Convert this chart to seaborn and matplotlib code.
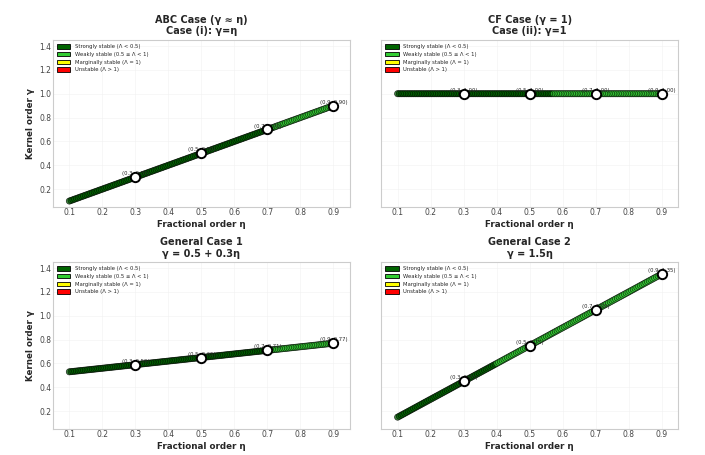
import numpy as np
import pandas as pd
import matplotlib
matplotlib.use("Agg")
import matplotlib.pyplot as plt
from matplotlib.patches import Patch
import seaborn as sns

sns.set_style("whitegrid")

# sampling grid along the fractional order
eta = np.linspace(0.1, 0.9, 150)

titles = ["ABC Case (γ ≈ η)\nCase (i): γ=η",
          "CF Case (γ = 1)\nCase (ii): γ=1",
          "General Case 1\nγ = 0.5 + 0.3η",
          "General Case 2\nγ = 1.5η"]

# kernel order for each case (as given in the titles)
gammas = [eta,
          np.ones_like(eta),
          0.5 + 0.3 * eta,
          1.5 * eta]

# eta where the points turn from strongly to weakly stable
weak_from = [0.72, 0.57, 0.72, 0.40]

highlight_eta = [0.3, 0.5, 0.7, 0.9]

classes = ["Strongly stable (Λ < 0.5)", "Weakly stable (0.5 ≤ Λ < 1)",
           "Marginally stable (Λ = 1)", "Unstable (Λ > 1)"]
colors = ["#006400", "#32CD32", "#FFFF00", "#FF0000"]
palette = dict(zip(classes, colors))

fig, axes = plt.subplots(2, 2, figsize=(7.05, 4.55), dpi=100, sharey=True)
fig.subplots_adjust(left=0.075, right=0.962, top=0.912, bottom=0.057,
                    wspace=0.105, hspace=0.33)

for i, ax in enumerate(axes.flat):
    g = gammas[i]
    df = pd.DataFrame({"eta": eta, "gamma": g})
    df["stab"] = np.where(df["eta"] < weak_from[i], classes[0], classes[1])
    sns.scatterplot(data=df, x="eta", y="gamma", hue="stab", palette=palette,
                    s=20, edgecolor="black", linewidth=0.5, alpha=0.75,
                    legend=False, ax=ax, zorder=3)
    hx = np.array(highlight_eta)
    hy = np.interp(hx, eta, g)
    ax.scatter(hx, hy, s=45, facecolor="white", edgecolor="black",
               linewidth=1.4, zorder=5)
    for x, y in zip(hx, hy):
        ax.text(x, y + 0.008, f"({x:.1f}, {y:.2f})", fontsize=3.8,
                ha="center", va="bottom", zorder=4)

    ax.set_title(titles[i], fontsize=7, fontweight="bold", pad=4)
    ax.set_xlabel("Fractional order η", fontsize=6.3, fontweight="bold", labelpad=2)
    ax.set_xlim(0.05, 0.95)
    ax.set_ylim(0.05, 1.45)
    ax.set_xticks(np.arange(0.1, 0.91, 0.1))
    ax.set_yticks(np.arange(0.2, 1.41, 0.2))
    ax.tick_params(labelsize=5.5, colors="#444444", pad=1, length=0)
    if i % 2 == 0:
        ax.set_ylabel("Kernel order γ", fontsize=6.3, fontweight="bold", labelpad=3)
    else:
        ax.set_ylabel("")
        ax.tick_params(labelleft=False)
    ax.grid(True, color="#eeeeee", linewidth=0.5, alpha=0.6)
    for sp in ax.spines.values():
        sp.set_color("#cccccc")
        sp.set_linewidth(0.8)

    handles = [Patch(facecolor=c, edgecolor="black", linewidth=0.6, label=l)
               for c, l in zip(colors, classes)]
    ax.legend(handles=handles, loc="upper left", fontsize=3.8, frameon=False,
              handlelength=2.5, handleheight=0.9, borderaxespad=0.4,
              labelspacing=0.5)

plt.savefig("out.png", dpi=100)
